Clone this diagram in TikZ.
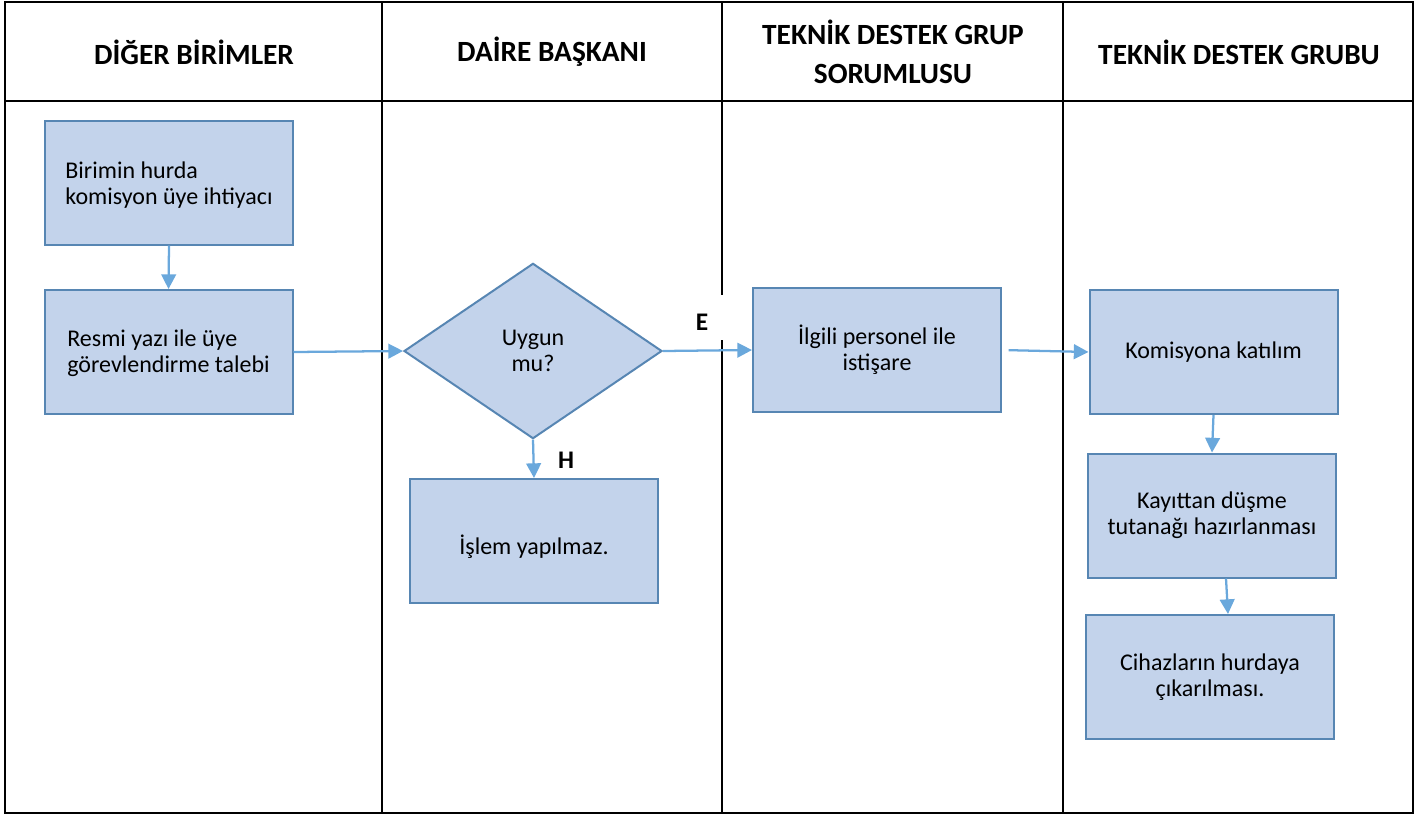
\documentclass[tikz,border=0pt]{standalone}
\usepackage{fontspec}
\setmainfont{Carlito}
\usetikzlibrary{shapes.geometric,arrows.meta,calc}
\definecolor{boxfill}{HTML}{C3D3EB}
\definecolor{boxline}{HTML}{5786B3}
\definecolor{arrowc}{HTML}{6AA8DC}
\begin{document}
\begin{tikzpicture}[x=0.75pt,y=-0.75pt,
  frame/.style={line width=1.6pt,black},
  procbox/.style={draw=boxline,fill=boxfill,line width=1.5pt,minimum width=186pt,minimum height=93pt,font=\fontsize{18}{19.5}\selectfont,align=center,inner sep=0pt},
  leftbox/.style={procbox,align=left},
  decbox/.style={diamond,draw=boxline,fill=boxfill,line width=1.5pt,minimum width=193.5pt,minimum height=131.5pt,font=\fontsize{18}{19.5}\selectfont,align=center,inner sep=0pt},
  head/.style={font=\bfseries\fontsize{22}{29.25}\selectfont,align=center},
  lbl/.style={font=\bfseries\fontsize{19}{21}\selectfont},
  flow/.style={draw=arrowc,line width=1.7pt,-{Triangle[length=11pt,width=11pt]}}]
\useasboundingbox (0,0) rectangle (1428,819);
% frame
\draw[frame] (5,2) rectangle (1413,813);
\draw[frame] (5,101) -- (1413,101);
\draw[frame] (382,2) -- (382,813);
\draw[frame] (722,2) -- (722,295);
\draw[frame] (722,340) -- (722,813);
\draw[frame] (1063,2) -- (1063,813);
% headers
\node[head] (h1) at (194,52) {DİĞER BİRİMLER};
\node[head] (h2) at (552,52) {DAİRE BAŞKANI};
\node[head] (h3) at (893,52) {TEKNİK DESTEK GRUP\\SORUMLUSU};
\node[head] (h4) at (1239,52) {TEKNİK DESTEK GRUBU};
% boxes
\node[leftbox] (b1) at (169,182.5) {\rule{0pt}{16pt}Birimin hurda\\komisyon üye ihtiyacı};
\node[leftbox] (b2) at (168.5,352) {\rule{0pt}{15pt}Resmi yazı ile üye\\görevlendirme talebi};
\node[decbox] (d) at (533,351) {Uygun\\mu?};
\node[procbox] (bh) at (534,541) {\rule{0pt}{23pt}İşlem yapılmaz.};
\node[procbox] (b3) at (877,350) {İlgili personel ile\\istişare};
\node[procbox] (b4) at (1213.5,352) {Komisyona katılım};
\node[procbox] (b5) at (1212,515.5) {Kayıttan düşme\\tutanağı hazırlanması};
\node[procbox] (b6) at (1210,677) {Cihazların hurdaya\\çıkarılması.};
% labels
\node[lbl] (le) at (702,322) {E};
\node[lbl] (lh) at (566,460) {H};
% connectors
\draw[flow] (b1.south) -- (b2.north);
\draw[flow] (b2.east) -- (d.west);
\draw[flow] (d.east) -- (b3.west);
\draw[flow] (d.south) -- (bh.north);
\draw[flow,shorten <=5pt] (b3.east) -- (b4.west);
\draw[flow] (b4.south) -- (b5.north);
\draw[flow] ($(b5.south)+(14,0)$) -- ($(b6.north)+(18,0)$);
\end{tikzpicture}
\end{document}
